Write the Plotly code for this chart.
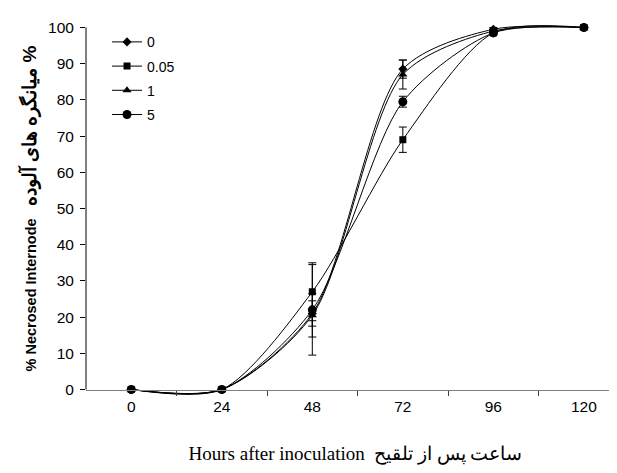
import plotly.graph_objects as go

hours = [0, 24, 48, 72, 96, 120]
tick_labels = ["0", "24", "48", "72", "96", "120"]
y_ticks = [0, 10, 20, 30, 40, 50, 60, 70, 80, 90, 100]
series_names = ["0", "0.05", "1", "5"]
vals_0 = [0, 0, 21, 88.5, 99.5, 100]
vals_005 = [0, 0, 27, 69, 98.5, 100]
vals_1 = [0, 0, 20.5, 87, 99, 100]
vals_5 = [0, 0, 22, 79.5, 98.5, 100]
err_0 = [0, 0, 3.5, 2.5, 0.5, 0]
err_005 = [0, 0, 8, 3.5, 0.5, 0]
err_1 = [0, 0, 6, 4, 0.5, 0]
err_5 = [0, 0, 12.5, 1.5, 0.5, 0]
mid_ticks = [12, 36, 60, 84, 108]

series = [
    (series_names[0], vals_0, err_0, "diamond", 7),
    (series_names[1], vals_005, err_005, "square", 7),
    (series_names[2], vals_1, err_1, "triangle-up", 8),
    (series_names[3], vals_5, err_5, "circle", 9),
]

Y_LO, Y_HI = -4, 104

fig = go.Figure()
for i, (name, v, e, sym, sz) in enumerate(series):
    fig.add_trace(go.Scatter(
        x=hours, y=v, name=name, mode="lines+markers",
        line=dict(color="black", width=1, shape="spline", smoothing=0.8),
        marker=dict(symbol=sym, size=sz, color="black"),
        error_y=dict(type="data", array=e, visible=True, color="black",
                     thickness=1, width=4),
        cliponaxis=False, legendgroup="g%d" % i,
    ))

# y-axis line only from 0 to 100
fig.add_shape(type="line", xref="paper", yref="y", x0=0, x1=0, y0=0, y1=100,
              line=dict(color="black", width=1))

fig.update_layout(
    width=617, height=473,
    margin=dict(l=78, r=0, t=4.5, b=76.5),
    paper_bgcolor="white", plot_bgcolor="white",
    font=dict(family="Arial, Liberation Sans, sans-serif", size=15.5, color="black"),
    showlegend=True,
    legend=dict(x=0.039, y=0.966, xanchor="left", yanchor="top",
                bgcolor="rgba(0,0,0,0)", font=dict(size=14),
                tracegroupgap=3),
    xaxis=dict(
        range=[-12, 130.9], tickvals=hours, ticktext=tick_labels,
        ticks="", showgrid=False, zeroline=False,
        anchor="free", position=(0 - Y_LO) / (Y_HI - Y_LO),
        showline=True, linecolor="#808080", linewidth=1.2,
        ticklabelstandoff=3,
        minor=dict(tickmode="array", tickvals=mid_ticks, ticks="outside",
                   ticklen=5, tickcolor="#404040", tickwidth=1, showgrid=False),
        title=dict(text="Hours after inoculation  ساعت پس از تلقیح",
                   font=dict(family="Times New Roman, Liberation Serif, serif", size=19),
                   standoff=32),
    ),
    yaxis=dict(
        range=[Y_LO, Y_HI], tickvals=y_ticks, ticks="outside", ticklen=5,
        tickcolor="black", showgrid=False, zeroline=False,
        showline=False, ticklabelstandoff=3,
        title=dict(text="<b>% Necrosed Internode</b>   "
                        "<span style='font-size:19px'><b>میانگره های آلوده %</b></span>",
                   font=dict(size=14.5, weight="bold"), standoff=7),
    ),
)

fig.write_html("out.html")
